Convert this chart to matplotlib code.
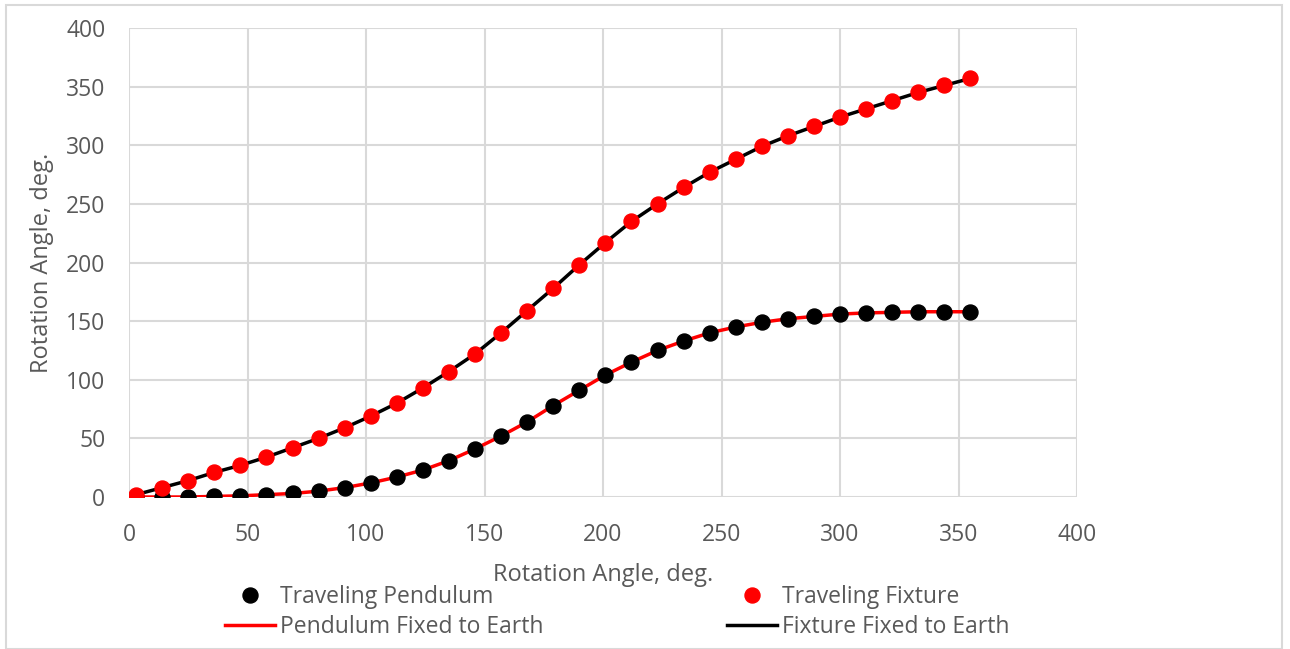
import matplotlib
matplotlib.use("Agg")
import matplotlib.pyplot as plt
from matplotlib.lines import Line2D
from matplotlib.patches import Rectangle

# Data
rotation_angle = [3, 14, 25, 36, 47, 58, 69, 80, 91, 102, 113, 124, 135, 146, 157, 168,
                  179, 190, 201, 212, 223, 234, 245, 256, 267, 278, 289, 300, 311, 322,
                  333, 344, 355]
traveling_pendulum = [0, 0, 0, 0.5, 1, 2, 3, 5, 8, 12, 17, 23, 31, 41, 52, 64,
                      78, 91, 104, 115, 125, 133, 140, 145, 149, 152, 154, 156, 157, 157.5,
                      158, 158, 158]
traveling_fixture = [2, 8, 14, 21, 27, 34, 42, 50, 59, 69, 80, 93, 107, 122, 140, 159,
                     178, 198, 217, 235, 250, 264, 277, 288, 299, 308, 316, 324, 331, 338,
                     345, 351, 357]
pendulum_fixed = traveling_pendulum
fixture_fixed = traveling_fixture

x_ticks = [0, 50, 100, 150, 200, 250, 300, 350, 400]
y_ticks = [0, 50, 100, 150, 200, 250, 300, 350, 400]

plt.rcParams['font.family'] = ['Open Sans', 'DejaVu Sans']
text_color = '#595959'
grid_color = '#D9D9D9'
fs = 16.5

fig = plt.figure(figsize=(12.9, 6.49), dpi=100)
fig.patches.append(Rectangle((6/1290, 0), 1276/1290, 1 - 5/649, transform=fig.transFigure,
                             fill=False, edgecolor=grid_color, linewidth=1.5))
ax = fig.add_axes([129/1290, 152/649, 948/1290, 469/649])

ax.plot(rotation_angle, pendulum_fixed, color='#FF0000', linewidth=2.5, zorder=2)
ax.plot(rotation_angle, fixture_fixed, color='black', linewidth=2.5, zorder=2)
ax.plot(rotation_angle, traveling_pendulum, linestyle='none', marker='o', markersize=10.8,
        color='black', zorder=3)
ax.plot(rotation_angle, traveling_fixture, linestyle='none', marker='o', markersize=10.8,
        color='#FF0000', zorder=3)

ax.set_xlim(0, 400)
ax.set_ylim(0, 400)
ax.set_xticks(x_ticks)
ax.set_yticks(y_ticks)
ax.tick_params(axis='both', length=0, labelsize=fs, labelcolor=text_color)
ax.tick_params(axis='x', pad=19)
ax.tick_params(axis='y', pad=17)
ax.grid(True, color=grid_color, linewidth=1.5)
ax.set_axisbelow(True)
for s in ax.spines.values():
    s.set_visible(False)

ax.set_xlabel('Rotation Angle, deg.', fontsize=fs + 0.5, color=text_color, labelpad=11)
ax.set_ylabel('Rotation Angle, deg.', fontsize=fs + 0.5, color=text_color, labelpad=9)

handles1 = [
    Line2D([], [], linestyle='none', marker='o', markersize=10.8, color='black'),
    Line2D([], [], color='#FF0000', linewidth=2.5),
]
handles2 = [
    Line2D([], [], linestyle='none', marker='o', markersize=10.8, color='#FF0000'),
    Line2D([], [], color='black', linewidth=2.5),
]
legkw = dict(loc='center left', frameon=False, fontsize=fs, labelcolor=text_color,
             handlelength=2.2, handletextpad=0.2, labelspacing=0.25, borderpad=0,
             borderaxespad=0)
leg1 = fig.legend(handles1, ['Traveling Pendulum', 'Pendulum Fixed to Earth'],
                  bbox_to_anchor=(225/1290, 1 - 612/649), **legkw)
leg2 = fig.legend(handles2, ['Traveling Fixture', 'Fixture Fixed to Earth'],
                  bbox_to_anchor=(727/1290, 1 - 612/649), **legkw)

fig.savefig('out.png', dpi=100)
